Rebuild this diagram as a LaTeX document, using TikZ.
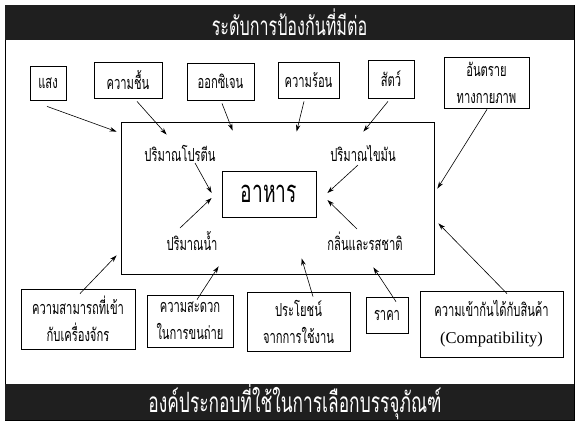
\documentclass[tikz,border=0pt]{standalone}
\usepackage{fontspec}
\setmainfont{Liberation Serif}
\newfontfamily\thai[Script=Thai,FakeStretch=0.62]{Loma}
\usetikzlibrary{arrows.meta,calc}
\begin{document}
\begin{tikzpicture}[x=1pt,y=-1pt,
  box/.style={draw, line width=0.8pt, inner sep=0pt, align=center,
    font=\thai\fontsize{18}{27}\selectfont},
  lbl/.style={inner sep=0pt, font=\thai\fontsize{18}{27}\selectfont},
  arr/.style={-{Stealth[length=7pt,width=4.5pt]}, line width=0.6pt},
  bar/.style={fill=black!88},
  bartext/.style={text=white, font=\thai\fontsize{26}{30}\selectfont}]
\fill[white] (0,0) rectangle (579,426);
\useasboundingbox (0,0) rectangle (579,426);
% frame and bars
\draw[line width=0.8pt] (5,5) rectangle (574,420);
\fill[bar] (5,5) rectangle (574,40);
\fill[bar] (5,384) rectangle (574,420);
\node[bartext] (title) at (289.5,22.5) {ระดับการป้องกันที่มีต่อ};
\node[bartext, font=\thai\fontsize{28}{30}\selectfont] (foot) at (295,402) {องค์ประกอบที่ใช้ในการเลือกบรรจุภัณฑ์};
% top boxes
\node[box, minimum width=36, minimum height=34] (light) at (48,83) {แสง};
\node[box, minimum width=68, minimum height=36] (humid) at (128,80) {ความชื้น};
\node[box, minimum width=67, minimum height=37] (oxy) at (220.5,81.5) {ออกซิเจน};
\node[box, minimum width=61, minimum height=36] (heat) at (308.5,80) {ความร้อน};
\node[box, minimum width=46, minimum height=38] (animal) at (391,79) {สัตว์};
\node[box, minimum width=85, minimum height=51] (phys) at (486.5,82.5) {อันตราย\\ทางกายภาพ};
% inner
\node[draw, line width=0.8pt, minimum width=313, minimum height=152, inner sep=0pt] (inner) at (277.5,198) {};
\node[box, minimum width=94, minimum height=46, font=\thai\fontsize{31}{34}\selectfont] (food) at (269,194) {อาหาร};
\node[lbl] (prot) at (180,153) {ปริมาณโปรตีน};
\node[lbl] (fat) at (363,153) {ปริมาณไขมัน};
\node[lbl] (water) at (192,241) {ปริมาณน้ำ};
\node[lbl] (flavor) at (365,241) {กลิ่นและรสชาติ};
% bottom boxes
\node[box, minimum width=114, minimum height=60] (mach) at (78,319) {ความสามารถที่เข้า\\กับเครื่องจักร};
\node[box, minimum width=86, minimum height=52] (handle) at (190,321) {ความสะดวก\\ในการขนถ่าย};
\node[box, minimum width=103, minimum height=59] (use) at (298.5,321.5) {ประโยชน์\\จากการใช้งาน};
\node[box, minimum width=42, minimum height=36] (price) at (387,315) {ราคา};
\node[box, minimum width=143, minimum height=66] (compat) at (491.5,324) {ความเข้ากันได้กับสินค้า\\{\rmfamily\fontsize{16.5}{27}\selectfont (Compatibility)}};
% outer arrows
\draw[arr] ($(light.south)+(-1,6)$) -- ($(inner.north west)+(-4,10)$);
\draw[arr] ($(humid.south)+(9,3)$) -- ($(inner.north west)+(46,13)$);
\draw[arr] ($(oxy.south)+(1.5,3)$) -- ($(inner.north west)+(112,9)$);
\draw[arr] ($(heat.south)+(-4.5,3)$) -- ($(inner.north west)+(176,10)$);
\draw[arr] ($(animal.south)+(-3,3)$) -- ($(inner.north east)+(-71,10)$);
\draw[arr] ($(phys.south)+(0.5,1)$) -- ($(inner.north east)+(3,67)$);
\draw[arr] ($(mach.north)+(2,5)$) -- ($(inner.south west)+(-4,-19)$);
\draw[arr] ($(handle.north)+(7,5)$) -- ($(inner.south west)+(98,-8)$);
\draw[arr] ($(use.north)+(14.5,5)$) -- ($(inner.south west)+(181,-16)$);
\draw[arr] ($(price.north)+(9,5)$) -- ($(inner.south east)+(-61,-7)$);
\draw[arr] ($(compat.north)+(15.5,3)$) -- ($(inner.south east)+(4,-51)$);
% inner arrows
\draw[arr] ($(prot.center)+(15,10)$) -- ($(food.west)+(-10,-1)$);
\draw[arr] ($(fat.center)+(-5,12)$) -- ($(food.east)+(11,-1)$);
\draw[arr] ($(water.center)+(-12,-13)$) -- ($(food.west)+(-10,4)$);
\draw[arr] ($(flavor.center)+(-8,-12)$) -- ($(food.east)+(11,6)$);
\end{tikzpicture}
\end{document}
